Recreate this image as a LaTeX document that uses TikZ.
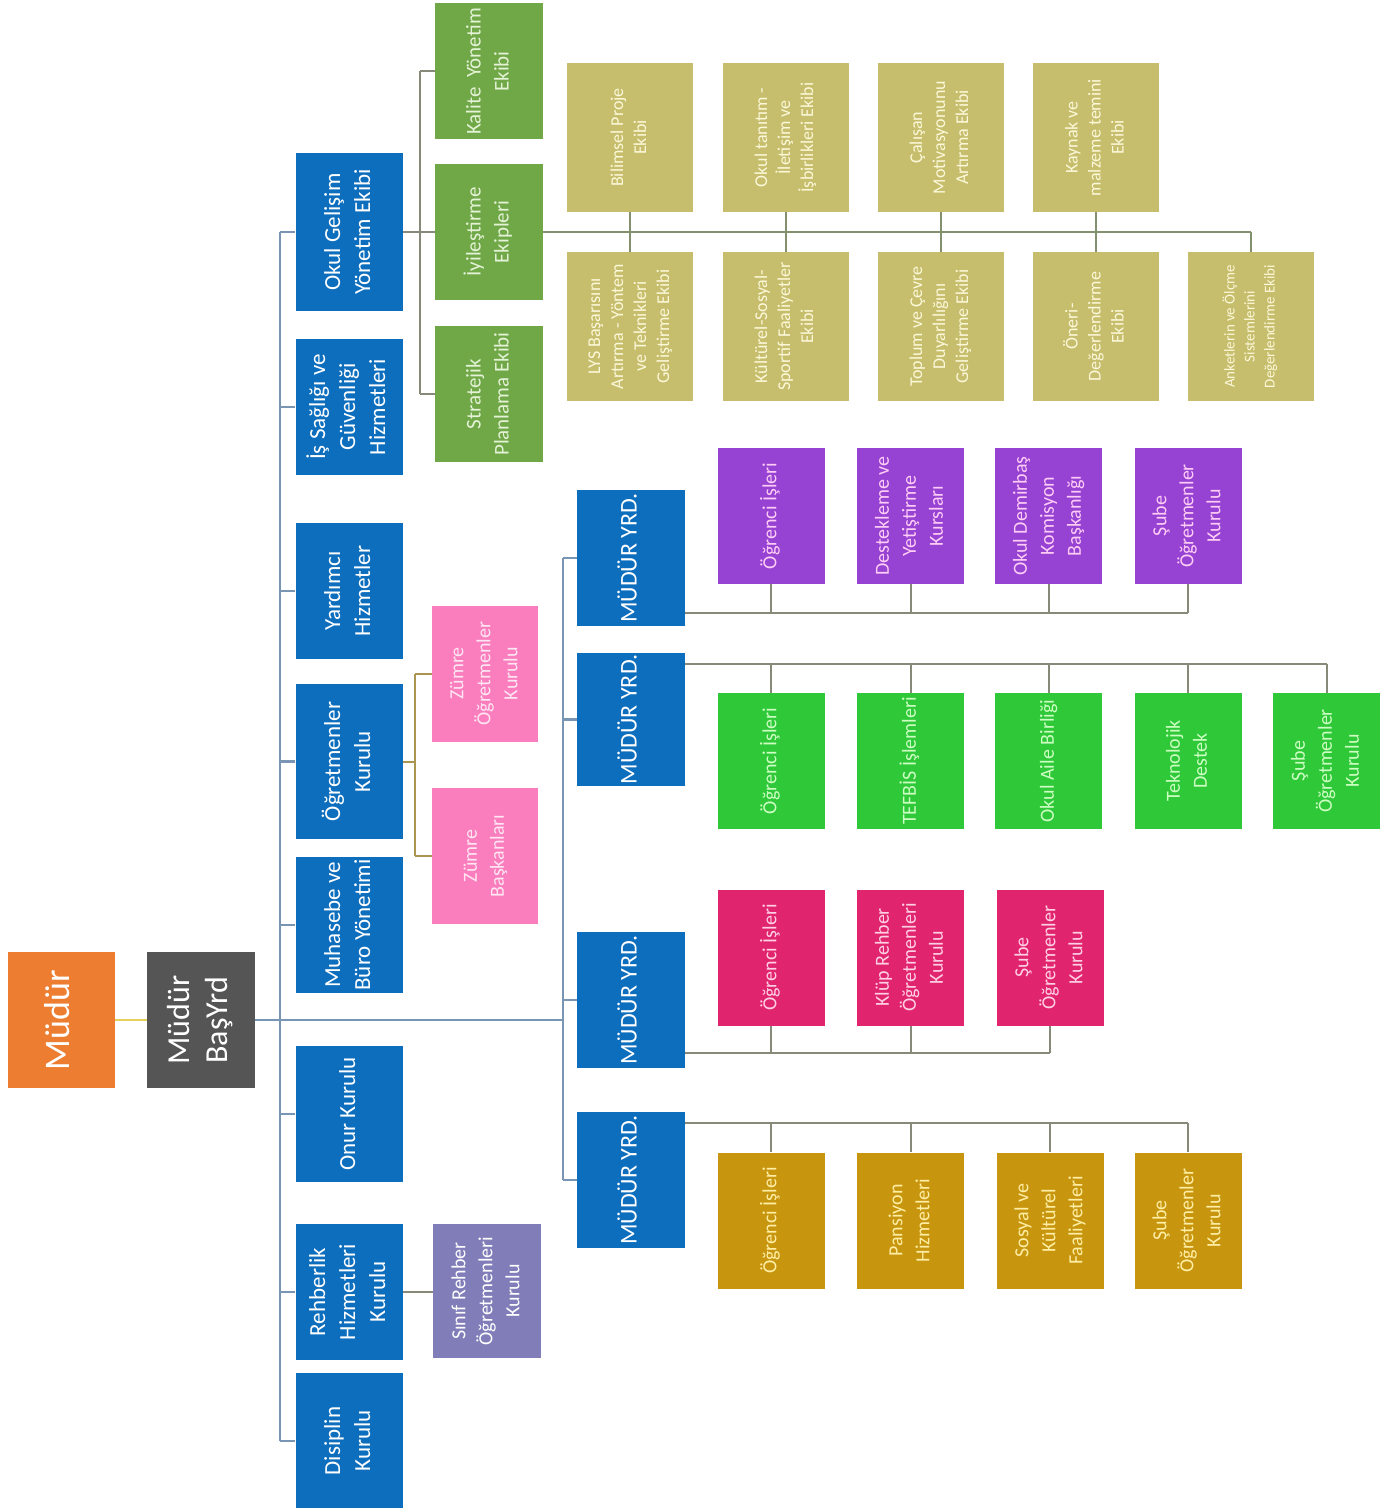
\documentclass[tikz,border=0pt]{standalone}
\usepackage{fontspec}
\setmainfont{Carlito}
\usepackage{graphicx}
\usepackage{tikz}
\usetikzlibrary{calc}
\definecolor{obblue}{RGB}{14,110,190}
\definecolor{oborange}{RGB}{237,125,49}
\definecolor{obgray}{RGB}{85,85,85}
\definecolor{obgreen}{RGB}{112,168,72}
\definecolor{obgreentx}{RGB}{228,242,214}
\definecolor{obtan}{RGB}{198,190,108}
\definecolor{obtantx}{RGB}{252,248,218}
\definecolor{obpurple}{RGB}{150,66,210}
\definecolor{obpurpletx}{RGB}{255,205,245}
\definecolor{oblime}{RGB}{46,200,56}
\definecolor{oblimetx}{RGB}{205,255,195}
\definecolor{obrose}{RGB}{225,36,110}
\definecolor{obrosetx}{RGB}{255,208,228}
\definecolor{obgold}{RGB}{200,150,14}
\definecolor{obgoldtx}{RGB}{255,238,165}
\definecolor{obpink}{RGB}{250,125,190}
\definecolor{obpinktx}{RGB}{255,230,242}
\definecolor{oblav}{RGB}{128,125,185}
\definecolor{obspine}{RGB}{120,150,180}
\definecolor{oblink}{RGB}{135,138,120}
\definecolor{obolive}{RGB}{170,150,80}
\definecolor{obyellow}{RGB}{228,208,90}
\newcommand{\vlab}[1]{\rotatebox{90}{\begin{tabular}{@{}c@{}}#1\end{tabular}}}

\begin{document}
\begin{tikzpicture}[x=0.5pt,y=-0.5pt,
  box/.style={inner sep=0pt,minimum width=53.5pt,minimum height=68pt,text=white,font=\fontsize{10}{13.5}\selectfont},
  blueb/.style={box,fill=obblue,font=\fontsize{11.5}{15}\selectfont},
  teamb/.style={box,fill=obgreen,text=obgreentx,minimum width=54pt,font=\fontsize{10.5}{14}\selectfont},
  tanb/.style={box,fill=obtan,text=obtantx,minimum width=63pt,minimum height=74.5pt,font=\fontsize{9}{11.5}\selectfont},
  yrdb/.style={box,fill=obblue,minimum width=54pt,font=\fontsize{12}{14}\selectfont},
  purb/.style={box,fill=obpurple,text=obpurpletx},
  limeb/.style={box,fill=oblime,text=oblimetx},
  roseb/.style={box,fill=obrose,text=obrosetx},
  goldb/.style={box,fill=obgold,text=obgoldtx},
  pinkb/.style={box,fill=obpink,text=obpinktx},
  spine/.style={draw=obspine,line width=1.1pt},
  link/.style={draw=oblink,line width=1pt}]
  \useasboundingbox (0,0) rectangle (1396,1508);

  % top of the chart
  \node[box,fill=oborange,font=\fontsize{18}{21}\selectfont] (mudur) at (61.5,1020) {\vlab{Müdür}};
  \node[box,fill=obgray,minimum width=54pt,font=\fontsize{16}{19}\selectfont] (bas) at (201,1020) {\vlab{Müdür\\BaşYrd}};
  \draw[draw=obyellow,line width=1pt] (mudur.east) -- (bas.east -| bas.west);

  % first column
  \node[blueb,minimum height=79pt] (okul) at (349,232) {\vlab{Okul Gelişim\\Yönetim Ekibi}};
  \node[blueb] (isg) at (349,407) {\vlab{İş Sağlığı ve\\Güvenliği\\Hizmetleri}};
  \node[blueb] (yard) at (349,591) {\vlab{Yardımcı\\Hizmetler}};
  \node[blueb,minimum height=77.5pt] (ogr) at (349,761.5) {\vlab{Öğretmenler\\Kurulu}};
  \node[blueb] (muh) at (349,925) {\vlab{Muhasebe ve\\Büro Yönetimi}};
  \node[blueb] (onur) at (349,1114) {\vlab{Onur Kurulu}};
  \node[blueb] (rehb) at (349,1292) {\vlab{Rehberlik\\Hizmetleri\\Kurulu}};
  \node[blueb] (disip) at (349,1441) {\vlab{Disiplin\\Kurulu}};

  \coordinate (sp) at (280,0);
  \coordinate (sq) at (563,0);
  \draw[spine] (bas.east) -- (bas.east -| sq);
  \draw[spine] (okul.west -| sp) -- (disip.west -| sp);
  \foreach \n in {okul,isg,yard,ogr,muh,onur,rehb,disip}
    \draw[spine] (\n.west) -- (\n.west -| sp);

  % okul gelisim teams
  \node[teamb] (kalite) at (489,71.5) {\vlab{Kalite~ Yönetim\\Ekibi}};
  \node[teamb] (iyi) at (489,232) {\vlab{İyileştirme\\Ekipleri}};
  \node[teamb] (strat) at (489,394) {\vlab{Stratejik\\Planlama Ekibi}};
  \coordinate (ok) at (420,0);
  \draw[link] (okul.east) -- (okul.east -| ok);
  \draw[link] (kalite.west -| ok) -- (strat.west -| ok);
  \foreach \n in {kalite,iyi,strat}
    \draw[link] (\n.west -| ok) -- (\n.west);

  \node[tanb] (bilim) at (630,137.5) {\vlab{Bilimsel Proje\\Ekibi}};
  \node[tanb] (tanit) at (785.5,137.5) {\vlab{Okul tanıtım -\\İletişim ve\\İşbirlikleri Ekibi}};
  \node[tanb] (calis) at (940.5,137.5) {\vlab{Çalışan\\Motivasyonunu\\Artırma Ekibi}};
  \node[tanb] (kaynak) at (1096,137.5) {\vlab{Kaynak ve\\malzeme temini\\Ekibi}};
  \node[tanb] (lys) at (630,326.5) {\vlab{LYS Başarısını\\Artırma - Yöntem\\ve Teknikleri\\Geliştirme Ekibi}};
  \node[tanb] (kultur) at (785.5,326.5) {\vlab{Kültürel-Sosyal-\\Sportif Faaliyetler\\Ekibi}};
  \node[tanb] (toplum) at (940.5,326.5) {\vlab{Toplum ve Çevre\\Duyarlılığını\\Geliştirme Ekibi}};
  \node[tanb] (oneri) at (1096,326.5) {\vlab{Öneri-\\Değerlendirme\\Ekibi}};
  \node[tanb,font=\fontsize{7.5}{10}\selectfont] (anket) at (1250.5,326.5) {\vlab{Anketlerin ve Ölçme\\Sistemlerini\\Değerlendirme Ekibi}};
  \draw[link,draw=oblink!80!obgreen] (iyi.east) -- (iyi.east -| anket.north);
  \draw[link,draw=oblink!80!obgreen] (iyi.east -| anket.north) -- (anket.north);
  \foreach \a/\b in {bilim/lys,tanit/kultur,calis/toplum,kaynak/oneri}
    \draw[link,draw=oblink!80!obgreen] (\a.south) -- (\b.north);

  % zumre
  \node[pinkb,minimum width=53pt] (zum1) at (485,673.5) {\vlab{Zümre\\Öğretmenler\\Kurulu}};
  \node[pinkb,minimum width=53pt] (zum2) at (485,856) {\vlab{Zümre\\Başkanları}};
  \coordinate (zm) at (415,0);
  \draw[link,draw=obolive] (ogr.east) -- (ogr.east -| zm);
  \draw[link,draw=obolive] (zum1.west -| zm) -- (zum2.west -| zm);
  \foreach \n in {zum1,zum2}
    \draw[link,draw=obolive] (\n.west -| zm) -- (\n.west);

  \node[box,fill=oblav,minimum width=54pt,minimum height=67pt] (sinif) at (487,1291) {\vlab{Sınıf Rehber\\Öğretmenleri\\Kurulu}};
  \draw[link] (rehb.east) -- (rehb.east -| sinif.west);

  % mudur yardimcilari
  \node[yrdb] (yrd1) at (631,558) {\vlab{MÜDÜR YRD.}};
  \node[yrdb,minimum height=66.5pt] (yrd2) at (631,719.5) {\vlab{MÜDÜR YRD.}};
  \node[yrdb] (yrd3) at (631,1000) {\vlab{MÜDÜR YRD.}};
  \node[yrdb] (yrd4) at (631,1180) {\vlab{MÜDÜR YRD.}};
  \draw[spine] (yrd1.west -| sq) -- (yrd4.west -| sq);
  \foreach \n in {yrd1,yrd2,yrd3,yrd4}
    \draw[spine] (\n.west) -- (\n.west -| sq);

  \node[purb] (p1) at (771,516) {\vlab{Öğrenci İşleri}};
  \node[purb] (p2) at (910.5,516) {\vlab{Destekleme ve\\Yetiştirme\\Kursları}};
  \node[purb] (p3) at (1048.5,516) {\vlab{Okul Demirbaş\\Komisyon\\Başkanlığı}};
  \node[purb] (p4) at (1188,516) {\vlab{Şube\\Öğretmenler\\Kurulu}};
  \coordinate (b1) at (0,613);
  \draw[link] (yrd1.east |- b1) -- (b1 -| p4);
  \foreach \n in {p1,p2,p3,p4}
    \draw[link] (\n.south) -- (\n.south |- b1);

  \node[limeb] (g1) at (771,761) {\vlab{Öğrenci İşleri}};
  \node[limeb] (g2) at (910.5,761) {\vlab{TEFBİS İşlemleri}};
  \node[limeb] (g3) at (1048.5,761) {\vlab{Okul Aile Birliği}};
  \node[limeb] (g4) at (1188,761) {\vlab{Teknolojik\\Destek}};
  \node[limeb] (g5) at (1326.5,761) {\vlab{Şube\\Öğretmenler\\Kurulu}};
  \coordinate (b2) at (0,664);
  \draw[link] (yrd2.east |- b2) -- (b2 -| g5);
  \foreach \n in {g1,g2,g3,g4,g5}
    \draw[link] (\n.north |- b2) -- (\n.north);

  \node[roseb] (k1) at (771,957.5) {\vlab{Öğrenci İşleri}};
  \node[roseb] (k2) at (910.5,957.5) {\vlab{Klüp Rehber\\Öğretmenleri\\Kurulu}};
  \node[roseb] (k3) at (1050,957.5) {\vlab{Şube\\Öğretmenler\\Kurulu}};
  \coordinate (b3) at (0,1053);
  \draw[link] (yrd3.east |- b3) -- (b3 -| k3);
  \foreach \n in {k1,k2,k3}
    \draw[link] (\n.south) -- (\n.south |- b3);

  \node[goldb] (o1) at (771,1220.5) {\vlab{Öğrenci İşleri}};
  \node[goldb] (o2) at (910.5,1220.5) {\vlab{Pansiyon\\Hizmetleri}};
  \node[goldb] (o3) at (1050,1220.5) {\vlab{Sosyal ve\\Kültürel\\Faaliyetleri}};
  \node[goldb] (o4) at (1188,1220.5) {\vlab{Şube\\Öğretmenler\\Kurulu}};
  \coordinate (b4) at (0,1123);
  \draw[link] (yrd4.east |- b4) -- (b4 -| o4);
  \foreach \n in {o1,o2,o3,o4}
    \draw[link] (\n.north |- b4) -- (\n.north);
\end{tikzpicture}
\end{document}
